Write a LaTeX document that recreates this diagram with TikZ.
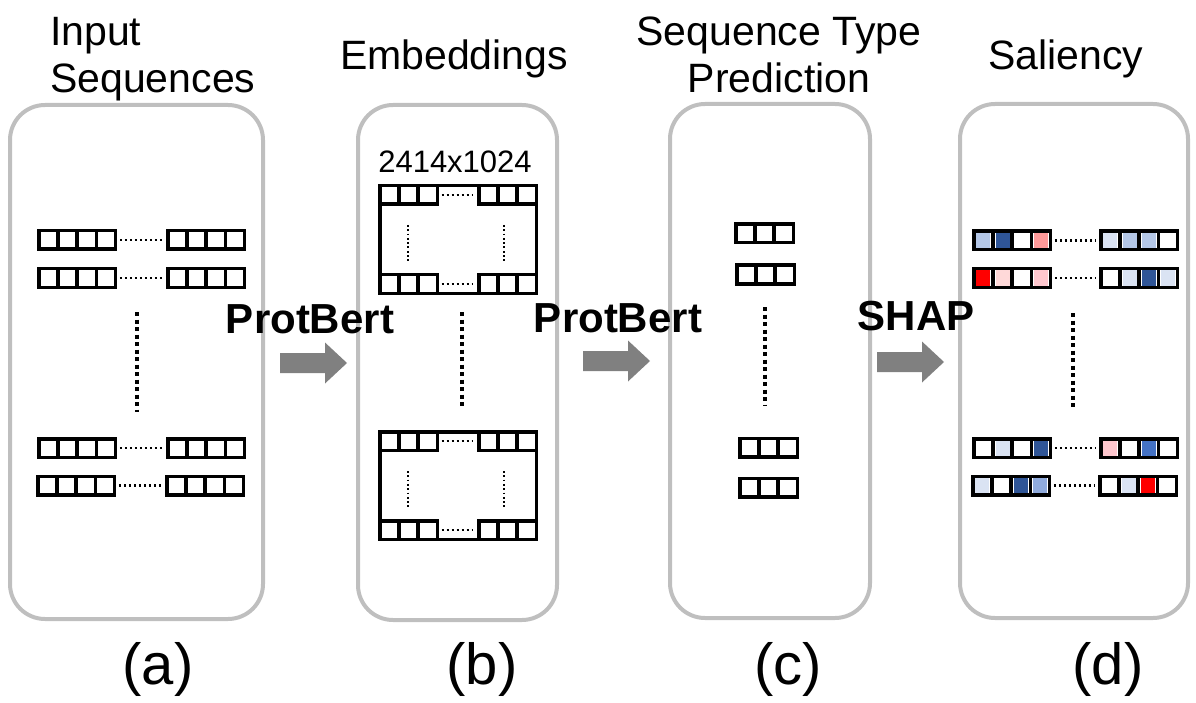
\documentclass[tikz,border=0pt]{standalone}
\usepackage{fontspec}
\setmainfont{Liberation Sans}
\usepackage{tikz}
\usetikzlibrary{positioning, calc}

\definecolor{salDark}{HTML}{2F5597}
\definecolor{salMid}{HTML}{4472C4}
\definecolor{salLight}{HTML}{8FAADC}
\definecolor{salPale}{HTML}{B4C7E7}
\definecolor{salFaint}{HTML}{DAE3F3}
\definecolor{salRed}{HTML}{FF0000}
\definecolor{salRose}{HTML}{FF9999}
\definecolor{salPink}{HTML}{FFC7CE}
\definecolor{salBlush}{HTML}{FFD9D9}

\tikzstyle{panel} = [rectangle, rounded corners=35pt, draw=black!25, line width=4pt, inner sep=0pt]
\tikzstyle{title} = [font=\fontsize{41pt}{47pt}\selectfont, inner sep=0pt]
\tikzstyle{caption} = [font=\fontsize{58pt}{60pt}\selectfont, inner sep=0pt, anchor=base]
\tikzstyle{model} = [font=\fontsize{42pt}{44pt}\selectfont\bfseries, inner sep=0pt, anchor=base]
\tikzstyle{cell} = [rectangle, draw=black, line width=3.5pt, fill=white, minimum width=19.2pt, minimum height=18.5pt, inner sep=0pt]
\tikzstyle{matrixbox} = [rectangle, draw=black, line width=3.5pt, minimum width=156.5pt, minimum height=107.5pt, inner sep=0pt]
\tikzstyle{gap} = [line width=2.5pt, dash pattern=on 2pt off 3pt, shorten <=2.5pt, shorten >=4pt]
\tikzstyle{thindots} = [line width=1.8pt, dash pattern=on 1.8pt off 2.5pt]
\tikzstyle{vdots} = [line width=4pt, dash pattern=on 4pt off 3.5pt]
\tikzstyle{bigarrow} = [fill=black!50]

% row of cells: name, left x, centre y, fill colours
\newcommand{\seqrow}[4]{%
  \foreach \c [count=\i] in {#4} {
    \node[cell] (#1-\i) at ({#2+1.75+(\i-0.5)*19.2}, #3) {};
    \fill[\c] ($(#1-\i.center)+(-7,-7.5)$) rectangle ($(#1-\i.center)+(7,7.5)$);
  }%
}
% embedding matrix: name, top y
\newcommand{\embmatrix}[2]{%
  \node[matrixbox] (#1) at (458, #2+55.5) {};
  \seqrow{#1-tl}{378}{#2+11}{white,white,white}
  \seqrow{#1-tr}{477}{#2+11}{white,white,white}
  \seqrow{#1-bl}{378}{#2+100}{white,white,white}
  \seqrow{#1-br}{477}{#2+100}{white,white,white}
  \draw[gap] (#1-tl-3) -- (#1-tr-1);
  \draw[gap] (#1-bl-3) -- (#1-br-1);
  \draw[thindots] (408, #2+41) -- (408, #2+79);
  \draw[thindots] (504, #2+41) -- (504, #2+79);
}

\begin{document}
\begin{tikzpicture}[x=1pt, y=-1pt]
\useasboundingbox (0,0) rectangle (1196,703);

% panels
\node[panel, minimum width=253pt, minimum height=514pt] (panelA) at (136.5,362) {};
\node[panel, minimum width=199pt, minimum height=515pt] (panelB) at (457.5,362.5) {};
\node[panel, minimum width=200pt, minimum height=514pt] (panelC) at (770,361) {};
\node[panel, minimum width=228pt, minimum height=514pt] (panelD) at (1074,361) {};

% titles
\node[title, anchor=north west, align=left] (ttlA) at (50,17) {Input\\Sequences};
\node[title, anchor=base] (ttlB) at (454,70) {Embeddings};
\node[title, anchor=north, align=center] (ttlC) at (779,17) {Sequence Type\\Prediction};
\node[title, anchor=base] (ttlD) at (1066,70) {Saliency};

% (a) input sequences
\seqrow{a1l}{37}{240}{white,white,white,white}
\seqrow{a1r}{166}{240}{white,white,white,white}
\seqrow{a2l}{37}{278}{white,white,white,white}
\seqrow{a2r}{166}{278}{white,white,white,white}
\seqrow{a3l}{37}{448}{white,white,white,white}
\seqrow{a3r}{166}{448}{white,white,white,white}
\seqrow{a4l}{36}{485.5}{white,white,white,white}
\seqrow{a4r}{165}{485.5}{white,white,white,white}
\foreach \r in {1,2,3,4}
  \draw[gap] (a\r l-4) -- (a\r r-1);
\draw[vdots] (137,312) -- (137,412);

% (b) embeddings
\node[font=\fontsize{31pt}{33pt}\selectfont, inner sep=0pt, anchor=base] (dims) at (455,173) {2414x1024};
\embmatrix{embTop}{184}
\embmatrix{embBot}{430}
\draw[vdots] (462,312) -- (462,408);

% (c) predictions
\seqrow{c1}{734}{233.5}{white,white,white}
\seqrow{c2}{735}{274.5}{white,white,white}
\seqrow{c3}{738}{447.5}{white,white,white}
\seqrow{c4}{738}{487.5}{white,white,white}
\draw[vdots] (765,307) -- (765,405);

% (d) saliency
\seqrow{d1l}{972}{240.5}{salPale,salDark,white,salRose}
\seqrow{d1r}{1099}{240.5}{salFaint,salPale,salPale,white}
\seqrow{d2l}{972}{278}{salRed,salBlush,white,salPink}
\seqrow{d2r}{1099}{278}{white,salFaint,salDark,salFaint}
\seqrow{d3l}{972}{448}{white,salFaint,white,salDark}
\seqrow{d3r}{1099}{448}{salPink,white,salMid,white}
\seqrow{d4l}{971}{485.5}{salFaint,white,salDark,salLight}
\seqrow{d4r}{1098}{485.5}{white,salFaint,salRed,white}
\foreach \r in {1,2,3,4}
  \draw[gap] (d\r l-4) -- (d\r r-1);
\draw[vdots] (1073,313) -- (1073,410);

% steps between panels
\node[model] (stepA) at (310,333) {ProtBert};
\node[model] (stepB) at (618,332) {ProtBert};
\node[model] (stepC) at (916,330) {SHAP};
\foreach \ax/\ay in {280/363, 583/361, 877/362}
  \fill[bigarrow] (\ax,\ay-10) -- (\ax+45,\ay-10) -- (\ax+45,\ay-20.5) -- (\ax+67,\ay)
    -- (\ax+45,\ay+20.5) -- (\ax+45,\ay+10) -- (\ax,\ay+10) -- cycle;

% captions
\node[caption] (capA) at (158,684) {(a)};
\node[caption] (capB) at (482,684) {(b)};
\node[caption] (capC) at (788,684) {(c)};
\node[caption] (capD) at (1108,684) {(d)};
\end{tikzpicture}
\end{document}
